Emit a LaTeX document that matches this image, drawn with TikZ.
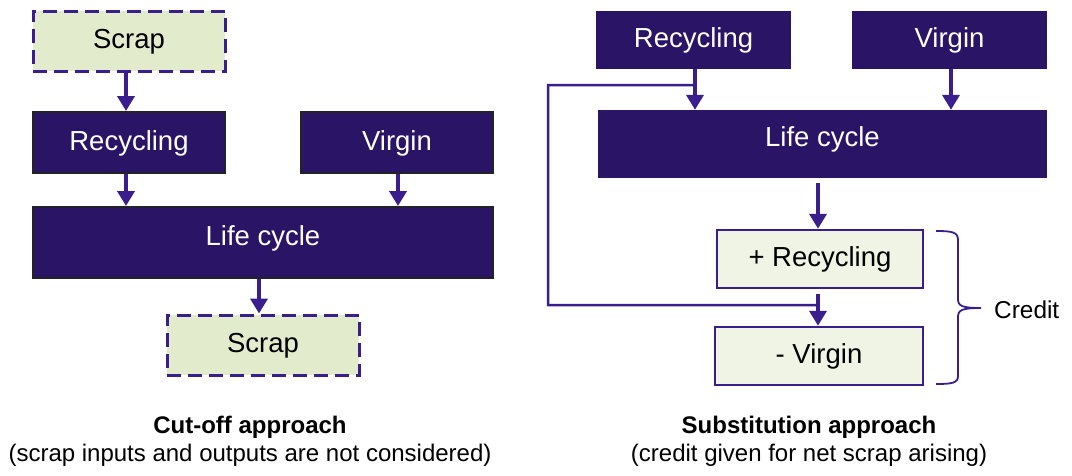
\documentclass[tikz,border=0pt]{standalone}
\usepackage{fontspec}
\setmainfont{Liberation Sans}
\usetikzlibrary{arrows.meta}

\definecolor{boxdark}{RGB}{42,20,102}
\definecolor{flowline}{RGB}{58,30,142}
\definecolor{scrapfill}{RGB}{226,235,203}
\definecolor{creditfill}{RGB}{240,244,228}
\definecolor{edgegray}{RGB}{34,34,40}

\tikzset{
  boxfont/.style={font=\fontsize{27.5}{33}\selectfont},
  darkbox/.style={boxfont, rectangle, inner sep=0pt, fill=boxdark, text=white,
    text height=20.6pt, text depth=5.6pt},
  framedbox/.style={darkbox, draw=edgegray, line width=2pt},
  scrapbox/.style={boxfont, rectangle, inner sep=0pt, fill=scrapfill, draw=flowline,
    line width=3pt, dash pattern=on 14pt off 7pt, text=black,
    text height=20.6pt, text depth=5.6pt},
  creditbox/.style={boxfont, rectangle, inner sep=0pt, fill=creditfill, draw=flowline,
    line width=2.5pt, text=black, text height=20.6pt, text depth=5.6pt},
  lowtext/.style={text depth=15.6pt},
  flow/.style={draw=flowline, line width=4pt, -{Triangle[width=17pt,length=15pt]}},
  loopline/.style={draw=flowline, line width=2.5pt},
  bracket/.style={draw=flowline, line width=1.8pt},
  caption/.style={font=\fontsize{24}{28}\selectfont, anchor=base, inner sep=0pt},
}

\begin{document}
\begin{tikzpicture}[x=1pt, y=-1pt]
  \useasboundingbox (0,0) rectangle (1072,475);

  % ---------- Cut-off approach ----------
  \node[scrapbox, minimum width=192pt, minimum height=60pt] (scrapIn) at (129,41) {Scrap};
  \node[framedbox, minimum width=192pt, minimum height=61pt] (recL) at (129,142.5) {Recycling};
  \node[framedbox, minimum width=192pt, minimum height=61pt] (virL) at (397,142.5) {Virgin};
  \node[framedbox, lowtext, minimum width=460pt, minimum height=71pt] (lifeL) at (263,242.5) {Life cycle};
  \node[scrapbox, minimum width=192pt, minimum height=60pt] (scrapOut) at (263,345) {Scrap};

  \draw[flow] ([xshift=-3pt]scrapIn.south) -- ([xshift=-3pt]recL.north);
  \draw[flow] ([xshift=-3pt]recL.south) -- ([xshift=-3pt]recL.south |- lifeL.north);
  \draw[flow] ([xshift=1pt]virL.south) -- ([xshift=1pt]virL.south |- lifeL.north);
  \draw[flow] ([xshift=-4pt]lifeL.south) -- ([xshift=-4pt]lifeL.south |- scrapOut.north);

  \node[caption, font=\fontsize{24}{28}\selectfont\bfseries] (capL1) at (250,433) {Cut-off approach};
  \node[caption] (capL2) at (250,461) {(scrap inputs and outputs are not considered)};

  % ---------- Substitution approach ----------
  \node[darkbox, minimum width=195pt, minimum height=58pt] (recR) at (693.5,40) {Recycling};
  \node[darkbox, minimum width=195pt, minimum height=58pt] (virR) at (949.5,40) {Virgin};
  \node[darkbox, lowtext, minimum width=449pt, minimum height=68pt] (lifeR) at (822.5,144) {Life cycle};
  \node[creditbox, minimum width=206pt, minimum height=58pt] (plusRec) at (820,259) {+ Recycling};
  \node[creditbox, minimum width=208pt, minimum height=58pt] (minusVir) at (819,356) {- Virgin};

  \coordinate (loopTop) at (548,85);
  \coordinate (loopBot) at (548,305);
  \coordinate (dropX) at (818,0);

  \draw[flow] ([xshift=1.5pt]recR.south) -- ([xshift=1.5pt]recR.south |- lifeR.north);
  \draw[flow] ([xshift=1.5pt]virR.south) -- ([xshift=1.5pt]virR.south |- lifeR.north);
  \draw[loopline] ([xshift=1.5pt,yshift=-16pt]recR.south) -- (loopTop) -- (loopBot) -- (loopBot -| dropX);
  \draw[flow] ([yshift=-5pt]lifeR.south -| dropX) -- (plusRec.north -| dropX);
  \draw[flow] ([yshift=-5pt]plusRec.south -| dropX) -- (minusVir.north -| dropX);

  % brace grouping the two credit entries
  \draw[bracket] (936,231) .. controls (952,231) and (958,232) .. (958,240)
    -- (958,299) .. controls (958,306) and (962,308) .. (981,308)
    .. controls (962,308) and (958,310) .. (958,317)
    -- (958,376) .. controls (958,383) and (952,384) .. (936,384);
  \node[anchor=base west, inner sep=0pt, font=\fontsize{24.4}{29}\selectfont] (credit) at (994,318) {Credit};

  \node[caption, font=\fontsize{24}{28}\selectfont\bfseries] (capR1) at (809,433) {Substitution approach};
  \node[caption] (capR2) at (809,461) {(credit given for net scrap arising)};
\end{tikzpicture}
\end{document}
